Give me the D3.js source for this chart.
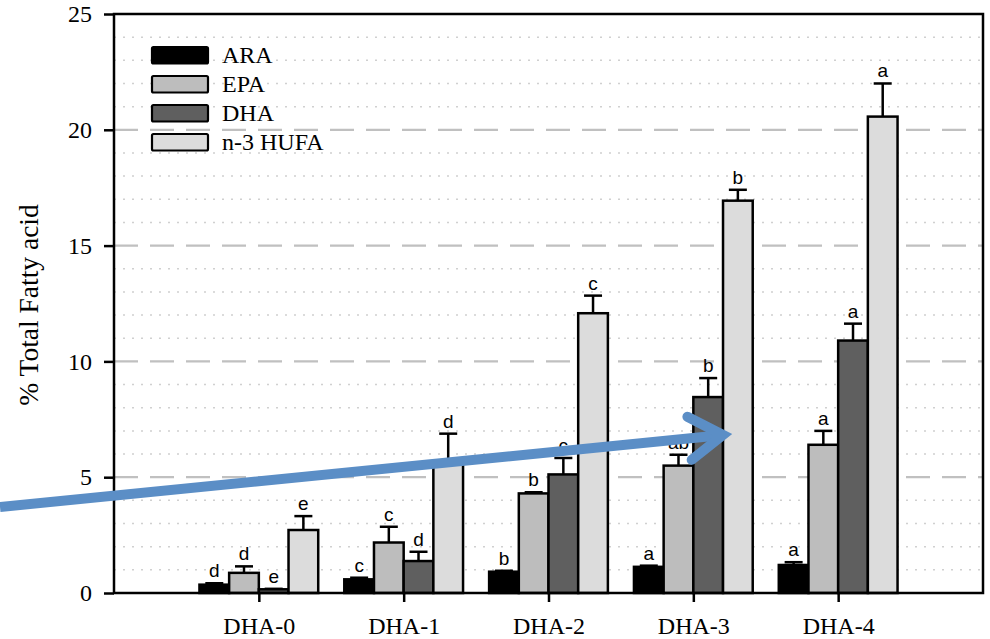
<!DOCTYPE html>
<html>
<head>
<meta charset="utf-8">
<script src="https://cdn.jsdelivr.net/npm/d3@7"></script>
<style>
  html, body { margin: 0; padding: 0; background: #fff; }
  svg { display: block; }
  .serif { font-family: "Liberation Serif", "DejaVu Serif", serif; }
  .sans { font-family: "Liberation Sans", Arial, sans-serif; }
</style>
</head>
<body>
<svg id="chart" width="990" height="639"></svg>
<script>
// Fatty acid composition per diet group (% of total fatty acids)
const groups = ["DHA-0", "DHA-1", "DHA-2", "DHA-3", "DHA-4"];
const seriesNames = ["ARA", "EPA", "DHA", "n-3 HUFA"];

const araMean  = [0.36, 0.59, 0.92, 1.13, 1.21];
const araSE    = [0.06, 0.07, 0.04, 0.05, 0.12];
const epaMean  = [0.87, 2.18, 4.30, 5.50, 6.40];
const epaSE    = [0.28, 0.68, 0.05, 0.47, 0.60];
const dhaMean  = [0.16, 1.38, 5.12, 8.46, 10.90];
const dhaSE    = [0.02, 0.40, 0.71, 0.82, 0.73];
const hufaMean = [2.72, 5.70, 12.08, 16.94, 20.57];
const hufaSE   = [0.60, 1.18, 0.76, 0.47, 1.43];

// Significance letters (Duncan groupings)
const araLetters  = ["d", "c", "b", "a", "a"];
const epaLetters  = ["d", "c", "b", "ab", "a"];
const dhaLetters  = ["e", "d", "c", "b", "a"];
const hufaLetters = ["e", "d", "c", "b", "a"];

const yTicks = [0, 5, 10, 15, 20, 25];

const means   = [araMean, epaMean, dhaMean, hufaMean];
const ses     = [araSE, epaSE, dhaSE, hufaSE];
const letters = [araLetters, epaLetters, dhaLetters, hufaLetters];
const fills   = ["#000000", "#bdbdbd", "#5f5f5f", "#dcdcdc"];

const svg = d3.select("#chart");
const plotL = 114, plotR = 983, plotT = 14, plotB = 593;

const x = d3.scaleLinear().domain([0, groups.length + 1]).range([plotL, plotR]);
const y = d3.scaleLinear().domain([0, 25]).range([plotB, plotT]);
const barW = 0.205; // bar width in group units

// Minor dotted gridlines every 1 unit
const minor = d3.range(1, 25).filter(v => v % 5 !== 0);
svg.append("g").selectAll("line").data(minor).join("line")
  .attr("x1", plotL).attr("x2", plotR)
  .attr("y1", d => y(d)).attr("y2", d => y(d))
  .attr("stroke", "#d0d0d0").attr("stroke-width", 1.5)
  .attr("stroke-dasharray", "2,7");

// Major dashed gridlines
svg.append("g").selectAll("line").data([5, 10, 15, 20]).join("line")
  .attr("x1", plotL).attr("x2", plotR)
  .attr("y1", d => y(d)).attr("y2", d => y(d))
  .attr("stroke", "#c0c0c0").attr("stroke-width", 2.2)
  .attr("stroke-dasharray", "24,12");

// Bars, error bars and letters
const rows = [];
groups.forEach((g, gi) => {
  seriesNames.forEach((s, si) => {
    rows.push({ gi, si, mean: means[si][gi], se: ses[si][gi], letter: letters[si][gi] });
  });
});
const bx = d => x(d.gi + 1 + (d.si - 2) * barW);
const bw = x(barW) - x(0);

const barG = svg.append("g");
barG.selectAll("line.err").data(rows).join("line").attr("class", "err")
  .attr("x1", d => bx(d) + bw / 2).attr("x2", d => bx(d) + bw / 2)
  .attr("y1", d => y(d.mean)).attr("y2", d => y(d.mean + d.se))
  .attr("stroke", "#000").attr("stroke-width", 2.5);
barG.selectAll("line.cap").data(rows).join("line").attr("class", "cap")
  .attr("x1", d => bx(d) + bw / 2 - 9).attr("x2", d => bx(d) + bw / 2 + 9)
  .attr("y1", d => y(d.mean + d.se)).attr("y2", d => y(d.mean + d.se))
  .attr("stroke", "#000").attr("stroke-width", 2.5);
barG.selectAll("rect").data(rows).join("rect")
  .attr("x", d => bx(d)).attr("width", bw)
  .attr("y", d => y(d.mean)).attr("height", d => y(0) - y(d.mean))
  .attr("fill", d => fills[d.si])
  .attr("stroke", "#000").attr("stroke-width", 2.5);
barG.selectAll("text").data(rows).join("text")
  .attr("class", "sans")
  .attr("x", d => bx(d) + bw / 2)
  .attr("y", d => y(d.mean + d.se) - 6)
  .attr("text-anchor", "middle")
  .style("font-size", "19px")
  .attr("fill", "#000")
  .text(d => d.letter);

// Frame
svg.append("rect")
  .attr("x", plotL).attr("y", plotT)
  .attr("width", plotR - plotL).attr("height", plotB - plotT)
  .attr("fill", "none").attr("stroke", "#000").attr("stroke-width", 2.5);

// Y axis
const yAxis = svg.append("g")
  .attr("transform", `translate(${plotL},0)`)
  .call(d3.axisLeft(y).tickValues(yTicks).tickSize(10).tickPadding(12).tickFormat(d3.format("d")));
yAxis.attr("font-family", null).attr("font-size", null);
yAxis.select(".domain").remove();
yAxis.selectAll(".tick line").attr("stroke", "#000").attr("stroke-width", 2.5);
yAxis.selectAll(".tick text").attr("class", "serif").style("font-size", "24px").attr("fill", "#000");

// X axis (group centres)
const xAxis = svg.append("g")
  .attr("transform", `translate(0,${plotB})`)
  .call(d3.axisBottom(x).tickValues(d3.range(1, groups.length + 1))
    .tickSize(9).tickPadding(15).tickFormat(d => groups[d - 1]));
xAxis.attr("font-family", null).attr("font-size", null);
xAxis.select(".domain").remove();
xAxis.selectAll(".tick line").attr("stroke", "#000").attr("stroke-width", 2.5);
xAxis.selectAll(".tick text").attr("class", "serif").style("font-size", "24px").attr("fill", "#000");

// Y axis title
svg.append("text")
  .attr("class", "serif")
  .attr("transform", "translate(38,305) rotate(-90)")
  .attr("text-anchor", "middle")
  .style("font-size", "27.5px").attr("fill", "#000")
  .text("% Total Fatty acid");

// Legend
const legend = svg.append("g");
seriesNames.forEach((s, i) => {
  const ly = 47 + i * 29;
  legend.append("rect")
    .attr("x", 152).attr("y", ly).attr("width", 56).attr("height", 16.5)
    .attr("rx", 1.5)
    .attr("fill", fills[i]).attr("stroke", "#000").attr("stroke-width", 2.2);
  legend.append("text")
    .attr("class", "serif")
    .attr("x", 222).attr("y", ly + 16)
    .style("font-size", "24px").attr("fill", "#000")
    .text(s);
});

// Highlight arrow
const x0 = 0, y0 = 507, x1 = 723, y1 = 435;
const ang = Math.atan2(y1 - y0, x1 - x0);
const armLen = 40, armAng = Math.PI / 5.5;
const a1 = [x1 - armLen * Math.cos(ang - armAng), y1 - armLen * Math.sin(ang - armAng)];
const a2 = [x1 - armLen * Math.cos(ang + armAng), y1 - armLen * Math.sin(ang + armAng)];
const arrow = svg.append("g")
  .attr("fill", "none").attr("stroke", "#5b8ec6").attr("stroke-width", 10);
arrow.append("line")
  .attr("x1", x0).attr("y1", y0).attr("x2", x1 - 5).attr("y2", y1 + 0.5);
arrow.append("path")
  .attr("d", `M${a1[0]},${a1[1]} L${x1},${y1} L${a2[0]},${a2[1]}`)
  .attr("stroke-linecap", "round").attr("stroke-linejoin", "miter");
</script>
</body>
</html>
